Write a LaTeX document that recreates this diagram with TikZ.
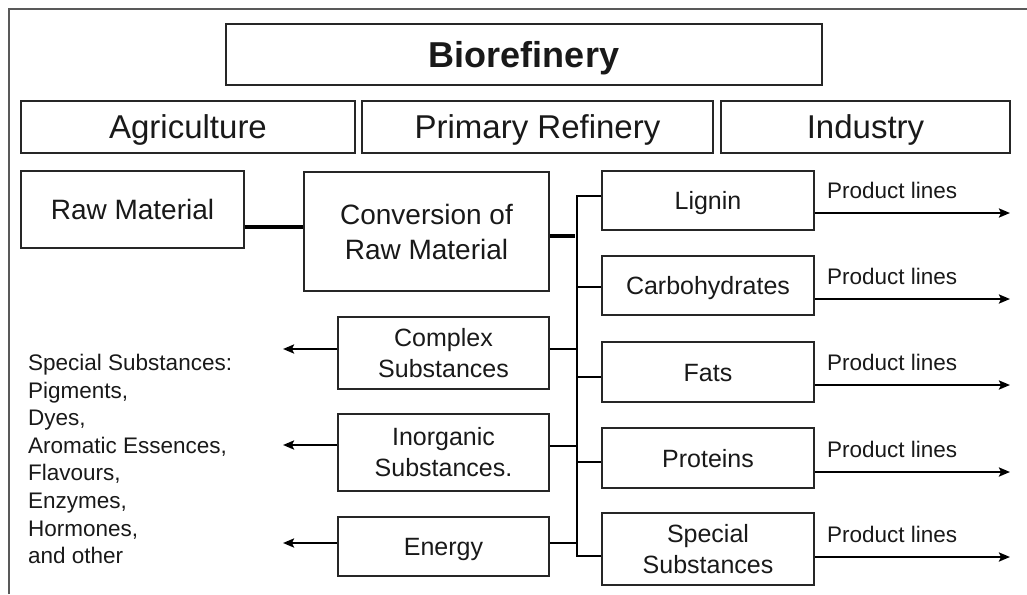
\documentclass[tikz,border=0pt]{standalone}
\usepackage{fontspec}
\setmainfont{Liberation Sans}
\usetikzlibrary{arrows.meta}
\begin{document}
\begin{tikzpicture}[x=1pt,y=1pt,
  box/.style={draw=black!85, line width=1.8pt, inner sep=0pt, align=center, text=black!90},
  oneline/.style={text height=#1, text depth=0pt},
  headfont/.style={font=\fontsize{33}{38}\selectfont},
  midfont/.style={font=\fontsize{28}{35}\selectfont},
  smallfont/.style={font=\fontsize{25}{31}\selectfont},
  labelfont/.style={font=\fontsize{22.5}{27.6}\selectfont},
  heavy/.style={line width=4pt},
  busline/.style={line width=2.6pt},
  link/.style={line width=2.2pt},
  arr/.style={line width=2.4pt, -{Stealth[length=11pt,width=9pt,inset=2pt]}},
  plabel/.style={labelfont, anchor=base west, inner sep=0pt, text=black!90}
]
\useasboundingbox (0,0) rectangle (1027,-594);
% frame edges
\draw[black!65, line width=1.2pt] (9,-594) -- (9,-9) -- (1027,-9);

% header rows
\node[box, oneline=25.8pt, minimum width=596, minimum height=61, font=\fontsize{36}{40}\selectfont\bfseries] (bio) at (524,-54.5) {Biorefinery};
\node[box, oneline=23.8pt, headfont, minimum width=334, minimum height=52] (agri) at (188,-127) {Agriculture};
\node[box, oneline=23.8pt, headfont, minimum width=351, minimum height=52] (prim) at (537.5,-127) {Primary Refinery};
\node[box, oneline=23.8pt, headfont, minimum width=289, minimum height=52] (ind) at (865.5,-127) {Industry};

% feedstock and conversion
\node[box, oneline=20.2pt, midfont, minimum width=223, minimum height=77] (raw) at (132.5,-209.5) {Raw Material};
\node[box, midfont, minimum width=245, minimum height=119] (conv) at (426.5,-231.5) {Conversion of\\Raw Material};

% fractions
\node[box, oneline=18pt, smallfont, minimum width=212, minimum height=59] (lignin) at (708,-200.5) {Lignin};
\node[box, oneline=18pt, smallfont, minimum width=212, minimum height=59] (carbo) at (708,-285.5) {Carbohydrates};
\node[box, oneline=18pt, smallfont, minimum width=212, minimum height=60] (fats) at (708,-372) {Fats};
\node[box, oneline=18pt, smallfont, minimum width=212, minimum height=60] (prot) at (708,-458) {Proteins};
\node[box, smallfont, minimum width=212, minimum height=72] (spec) at (708,-549) {Special\\Substances};

\node[box, smallfont, minimum width=211, minimum height=72] (complex) at (443.5,-353) {Complex\\Substances};
\node[box, smallfont, minimum width=211, minimum height=77] (inorg) at (443.5,-452.5) {Inorganic\\Substances.};
\node[box, oneline=18pt, smallfont, minimum width=211, minimum height=59] (energy) at (443.5,-546.5) {Energy};

% list of special substances
\node[labelfont, align=left, anchor=west, inner sep=0pt, text=black!90] (list) at (28,-459) {Special Substances:\\Pigments,\\Dyes,\\Aromatic Essences,\\Flavours,\\Enzymes,\\Hormones,\\and other};

% helper coordinates
\coordinate (busbot) at (577,-556);
\coordinate (leftend) at (283,0);
\coordinate (rightend) at (1010,0);

% raw material -> conversion -> bus
\coordinate (rc) at ([yshift=-17.5pt]raw.east);
\draw[heavy] (rc) -- (rc -| conv.west);
\coordinate (cv) at ([yshift=-4.5pt]conv.east);
\draw[heavy] (cv) -- ([xshift=-2pt]cv -| busbot);

% distribution bus
\draw[busline] ([yshift=4.5pt]lignin.west) -| (busbot) -- (busbot -| spec.west);
\coordinate (cb) at ([yshift=-1.5pt]carbo.west);
\draw[busline] (cb -| busbot) -- (cb);
\coordinate (fb) at ([yshift=-5pt]fats.west);
\draw[busline] (fb -| busbot) -- (fb);
\coordinate (pb) at ([yshift=-4pt]prot.west);
\draw[busline] (pb -| busbot) -- (pb);

% side streams
\coordinate (cx) at ([yshift=4pt]complex.east);
\draw[link] (cx) -- (cx -| busbot);
\coordinate (ix) at ([yshift=6.5pt]inorg.east);
\draw[link] (ix) -- (ix -| busbot);
\coordinate (ex) at ([yshift=3.5pt]energy.east);
\draw[link] (ex) -- (ex -| busbot);

\coordinate (cw) at ([yshift=4pt]complex.west);
\draw[arr] (cw) -- (cw -| leftend);
\coordinate (iw) at ([yshift=7.5pt]inorg.west);
\draw[arr] (iw) -- (iw -| leftend);
\coordinate (ew) at ([yshift=3.5pt]energy.west);
\draw[arr] (ew) -- (ew -| leftend);

% product lines
\foreach \n/\s in {lignin/-12.5, carbo/-13.5, fats/-13, prot/-14, spec/-8} {
  \coordinate (o-\n) at ([yshift=\s pt]\n.east);
  \draw[arr] (o-\n) -- (o-\n -| rightend);
  \node[plabel] (pl-\n) at ([xshift=12pt,yshift=14.5pt]o-\n) {Product lines};
}
\end{tikzpicture}
\end{document}
